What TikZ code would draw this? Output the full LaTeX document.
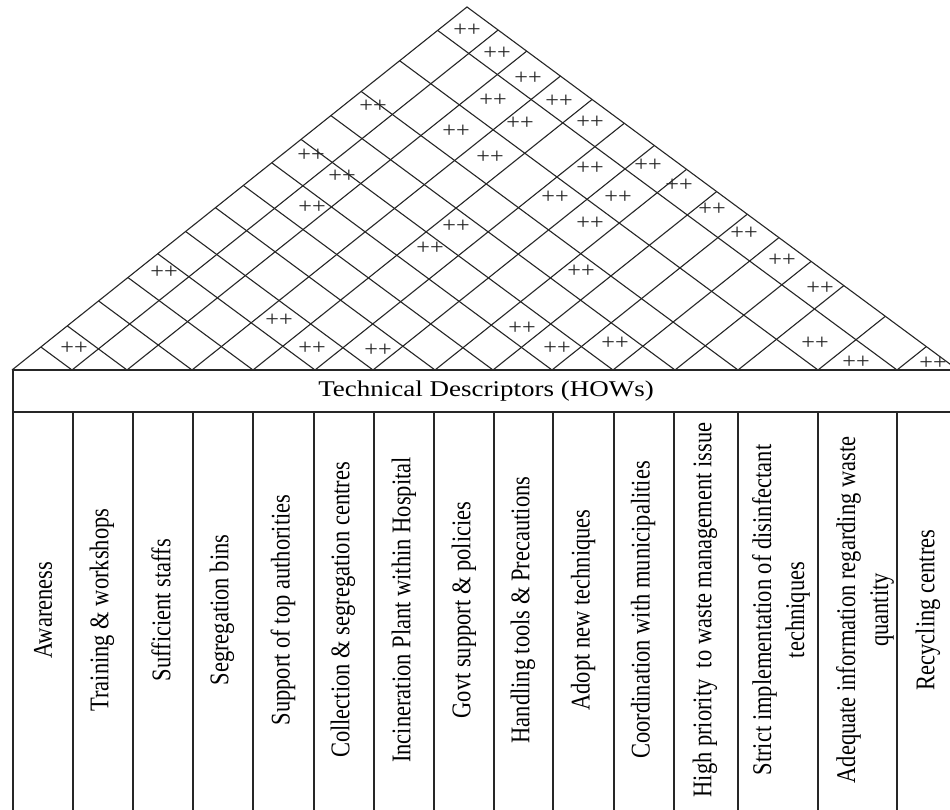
\documentclass[tikz,border=0pt]{standalone}
\usepackage{fontspec}
\setmainfont{Liberation Serif}
\usetikzlibrary{calc}
\begin{document}
\begin{tikzpicture}[x=1pt,y=-1pt,
  roofline/.style={draw=black!85, line width=1.1pt},
  desc/.style={font=\fontsize{22.5}{27.5}\selectfont, xscale=1.2, rotate=90, align=center, inner sep=0pt},
  pp/.style={font=\fontsize{22}{22}\selectfont, xscale=1.1, inner sep=0pt, text=black!85},
  howtitle/.style={font=\fontsize{22.5}{27}\selectfont, xscale=1.2, inner sep=0pt}]
\useasboundingbox (0,0) rectangle (950,810);
\fill[white] (0,0) rectangle (950,810);
% roof
\coordinate (A) at (467,7);
\coordinate (L) at (12,370);
\coordinate (R) at (958,370);
\draw[roofline] (L) -- (A) -- (R);
\foreach \b in {72,127,192,253,315,373,435,493,552,613,675,738,818,897} {
  \coordinate (B) at (\b,370);
  \draw[roofline] (B) -- ($(R)!{(958-\b)/946}!(A)$);
  \draw[roofline] (B) -- ($(L)!{(\b-12)/946}!(A)$);
}
% table
\draw[roofline] (L) -- (R);
\draw[roofline] (13,370) rectangle (958,815);
\draw[roofline] (13,412) -- (958,412);
\foreach \x in {73,133,193,253,314,374,434,494,553,614,674,738,818,897}
  \draw[roofline] (\x,412) -- (\x,815);
\node[howtitle] (t) at (486,391) {Technical Descriptors (HOWs)};
% column labels
\node[desc] (c1) at (43,610) {Awareness};
\node[desc] (c2) at (102,610) {Training \& workshops};
\node[desc] (c3) at (161,610) {Sufficient staffs};
\node[desc] (c4) at (222,610) {Segregation bins};
\node[desc] (c5) at (283,610) {Support of top authorities};
\node[desc] (c6) at (343,610) {Collection \& segregation centres};
\node[desc] (c7) at (404,610) {Incineration Plant within Hospital};
\node[desc] (c8) at (464,610) {Govt support \& policies};
\node[desc] (c9) at (523,610) {Handling tools \& Precautions};
\node[desc] (c10) at (583,610) {Adopt new techniques};
\node[desc] (c11) at (643,610) {Coordination with municipalities};
\node[desc] (c12) at (705,610) {High priority\ \ to waste management issue};
\node[desc] (c13) at (781,610) {Strict implementation of disinfectant\\techniques};
\node[desc] (c14) at (865,610) {Adequate information regarding waste\\quantity};
\node[desc] (c15) at (928,610) {Recycling centres};
% correlation marks
\foreach \x/\y [count=\i] in {467/30, 497/53, 528/78, 373/106, 493/100, 559/101, 520/123, 590/122, 456/131, 311/155, 490/157, 590/168, 648/165, 342/176, 679/185, 555/197, 618/197, 312/207, 712/209, 456/226, 590/223, 744/233, 430/248, 782/260, 164/272, 581/271, 820/288, 279/320, 522/328, 74/348, 312/348, 378/350, 557/348, 615/343, 815/343, 856/362, 933/363}
  \node[pp] (p\i) at (\x,\y) {++};
\end{tikzpicture}
\end{document}
